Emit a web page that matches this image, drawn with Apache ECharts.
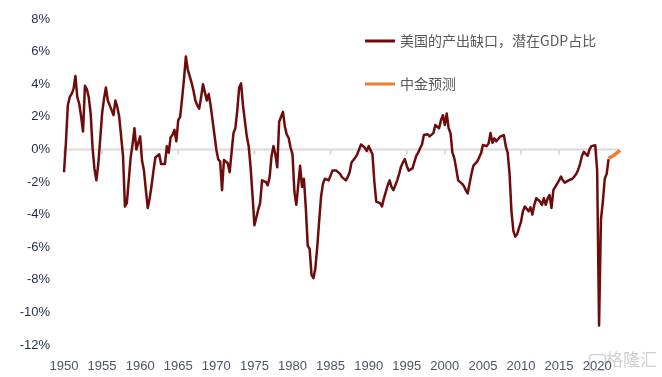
<!DOCTYPE html>
<html>
<head>
<meta charset="utf-8">
<script src="https://cdn.jsdelivr.net/npm/echarts@6/dist/echarts.min.js"></script>
<style>
html,body{margin:0;padding:0;background:#fff;}
#chart{width:662px;height:377px;}
</style>
</head>
<body>
<div id="chart"></div>
<script>
// US output gap, % of potential GDP, quarterly from 1950Q1
var startYear = 1950;
var gapValues = [
  -1.4, 0.4, 2.7, 3.2,     // 1950
  3.4, 3.7, 4.5, 3.2,      // 1951
  2.8, 2.0, 1.1, 3.9,      // 1952
  3.7, 3.2, 2.2, 0.1,      // 1953
  -1.2, -1.9, -0.9, 0.6,   // 1954
  2.2, 3.1, 3.8, 3.0,      // 1955
  2.7, 2.6, 2.1, 3.0,      // 1956
  2.6, 2.0, 1.9, -0.4,     // 1957
  -3.5, -3.3, -1.9, -0.5,  // 1958
  0.3, 1.3, 0.0, 0.1,      // 1959
  0.8, -0.7, -1.3, -2.5,   // 1960
  -3.6, -3.0, -2.2, -1.3,  // 1961
  -0.5, -0.4, -0.3, -0.9,  // 1962
  -0.95, -0.9, 0.2, -0.2,  // 1963
  0.75, 0.9, 1.2, 0.5,     // 1964
  1.8, 2.0, 3.1, 4.3,      // 1965
  5.7, 4.9, 4.5, 4.1,      // 1966
  3.6, 3.0, 2.7, 2.5,      // 1967
  3.2, 4.0, 3.5, 3.0,      // 1968
  3.4, 2.7, 1.8, 0.9,      // 1969
  0.0, -0.6, -0.75, -2.5,  // 1970
  -0.65, -0.7, -0.85, -1.4,// 1971
  -0.2, 1.0, 1.3, 2.4,     // 1972
  3.8, 4.05, 2.7, 2.6,     // 1973
  0.8, 0.2, -1.1, -2.8,    // 1974
  -4.65, -4.6, -3.7, -3.3, // 1975
  -1.9, -1.9, -2.0, -2.2,  // 1976
  -1.7, -0.4, 0.2, -0.3,   // 1977
  -1.1, 1.7, 2.0, 2.3,     // 1978
  1.4, 0.9, 0.7, 0.1,      // 1979
  -0.3, -2.6, -3.4, -2.2,  // 1980
  -1.0, -2.3, -1.8, -3.6,  // 1981
  -5.9, -6.1, -7.7, -7.9,  // 1982
  -7.3, -6.0, -4.4, -2.9,  // 1983
  -2.1, -1.8, -1.8, -1.9,  // 1984
  -1.9, -1.3, -1.3, -1.3,  // 1985
  -1.3, -1.5, -1.7, -1.8,  // 1986
  -1.9, -1.7, -1.4, -0.8,  // 1987
  -0.85, -0.5, -0.3, 0.0,  // 1988
  0.3, 0.3, 0.1, -0.1,     // 1989
  0.2, 0.1, -0.3, -2.0,    // 1990
  -3.2, -3.3, -3.3, -3.5,  // 1991
  -3.0, -2.6, -2.2, -1.9,  // 1992
  -2.3, -2.5, -2.6, -1.9,  // 1993
  -1.5, -1.06, -0.8, -0.6, // 1994
  -1.0, -1.3, -1.2, -1.16, // 1995
  -1.16, -0.4, -0.2, 0.07, // 1996
  0.3, 0.88, 0.9, 0.93,    // 1997
  0.8, 0.78, 1.0, 1.5,     // 1998
  1.5, 1.3, 1.8, 2.1,      // 1999
  1.5, 2.2, 1.3, 1.0,      // 2000
  -0.2, -0.55, -1.2, -1.9, // 2001
  -2.0, -2.1, -2.25, -2.5, // 2002
  -2.7, -2.6, -1.5, -1.0,  // 2003
  -0.9, -0.75, -0.5, -0.24,// 2004
  0.27, 0.2, 0.2, 0.37,    // 2005
  1.0, 0.4, 0.68, 0.5,     // 2006
  0.47, 0.78, 0.8, 0.88,   // 2007
  0.2, -0.2, -1.5, -3.8,   // 2008
  -5.0, -5.35, -5.2, -4.8, // 2009
  -4.45, -3.8, -3.5, -3.4, // 2010
  -3.8, -3.55, -4.0, -3.4, // 2011
  -3.0, -2.95, -3.2, -3.4, // 2012
  -3.0, -3.4, -3.0, -2.8,  // 2013
  -3.6, -2.5, -2.3, -2.1,  // 2014
  -1.9, -1.67, -1.9, -2.04,// 2015
  -2.0, -1.9, -1.8, -1.8,  // 2016
  -1.67, -1.5, -1.26, -0.9,// 2017
  -0.4, -0.15, -0.2, -0.4, // 2018
  0.0, 0.2, 0.2, 0.25,     // 2019
  -1.3, -10.8, -4.3, -3.2, // 2020
  -1.8, -1.5, -0.6         // 2021
];
// CICC forecast, quarterly from 2021Q3
var forecastStart = 2021.5;
var forecastValues = [-0.55, -0.5, -0.42, -0.34, -0.25, -0.15, -0.06];
var yearTicks = [1950,1955,1960,1965,1970,1975,1980,1985,1990,1995,2000,2005,2010,2015,2020];
var xMin = 1950, xMax = 2023;
var seriesNames = ['美国的产出缺口，潜在GDP占比', '中金预测'];

var gapData = gapValues.map(function (v, i) { return [startYear + i * 0.25, v]; });
var fcData = forecastValues.map(function (v, i) { return [forecastStart + i * 0.25, v]; });
var tickData = yearTicks.map(function (y) { return [y, 0]; });

var chart = echarts.init(document.getElementById('chart'), null, {renderer: 'canvas'});
chart.setOption({
  animation: false,
  backgroundColor: '#ffffff',
  grid: {left: 64, right: 42, top: 19, bottom: 32, containLabel: false},
  legend: {
    orient: 'vertical',
    left: 365,
    top: 33,
    padding: 0,
    itemWidth: 30,
    itemHeight: 3,
    itemGap: 27,
    icon: 'rect',
    textStyle: {fontFamily: 'Noto Sans CJK SC', fontSize: 14, color: '#595959', lineHeight: 16},
    data: [
      {name: seriesNames[0], itemStyle: {color: '#6e0b0b'}},
      {name: seriesNames[1], itemStyle: {color: '#ed7d31'}}
    ]
  },
  xAxis: {
    type: 'value', min: xMin, max: xMax, interval: 5,
    position: 'bottom',
    axisLine: {show: false, onZero: false},
    axisTick: {show: false},
    splitLine: {show: false},
    axisLabel: {
      margin: 15,
      fontFamily: 'Liberation Sans', fontSize: 13, color: '#4a5468',
      customValues: yearTicks,
      formatter: function (v) { return String(v); }
    }
  },
  yAxis: {
    type: 'value', min: -12, max: 8, interval: 2,
    axisLine: {show: false},
    axisTick: {show: false},
    splitLine: {show: false},
    axisLabel: {
      margin: 14,
      fontFamily: 'Liberation Sans', fontSize: 13, color: '#1d2b4a',
      formatter: function (v) { return v + '%'; }
    }
  },
  series: [
    {
      // zero baseline with year ticks, drawn through the axes' scales
      type: 'custom', silent: true, z: 1, clip: false,
      data: tickData,
      encode: {x: 0, y: 1},
      renderItem: function (params, api) {
        var p = api.coord([api.value(0), 0]);
        var children = [{
          type: 'line',
          shape: {x1: p[0], y1: p[1], x2: p[0], y2: p[1] + 5},
          style: {stroke: '#d9d9d9', lineWidth: 2}
        }];
        if (params.dataIndex === 0) {
          var a = api.coord([xMin, 0]);
          var b = api.coord([xMax, 0]);
          children.push({
            type: 'line',
            shape: {x1: a[0], y1: a[1], x2: b[0], y2: b[1]},
            style: {stroke: '#d9d9d9', lineWidth: 2}
          });
        }
        return {type: 'group', children: children};
      }
    },
    {
      name: seriesNames[0], type: 'line',
      data: gapData, showSymbol: false, symbol: 'none',
      lineStyle: {color: '#6e0b0b', width: 2.5, join: 'round'},
      itemStyle: {color: '#6e0b0b'}, z: 3
    },
    {
      name: seriesNames[1], type: 'line',
      data: fcData, showSymbol: false, symbol: 'none',
      lineStyle: {color: '#ed7d31', width: 3.5},
      itemStyle: {color: '#ed7d31'}, z: 4
    }
  ],
  graphic: [
    {type: 'rect', left: 587, top: 352, shape: {width: 16, height: 16, r: 3},
     style: {fill: 'none', stroke: '#d4d4d4', lineWidth: 1.5}, silent: true},
    {type: 'text', left: 606, top: 351, silent: true,
     style: {text: '格隆汇', fill: '#d0d0d0', font: '17px "Noto Sans CJK SC"'}}
  ]
});
</script>
</body>
</html>
